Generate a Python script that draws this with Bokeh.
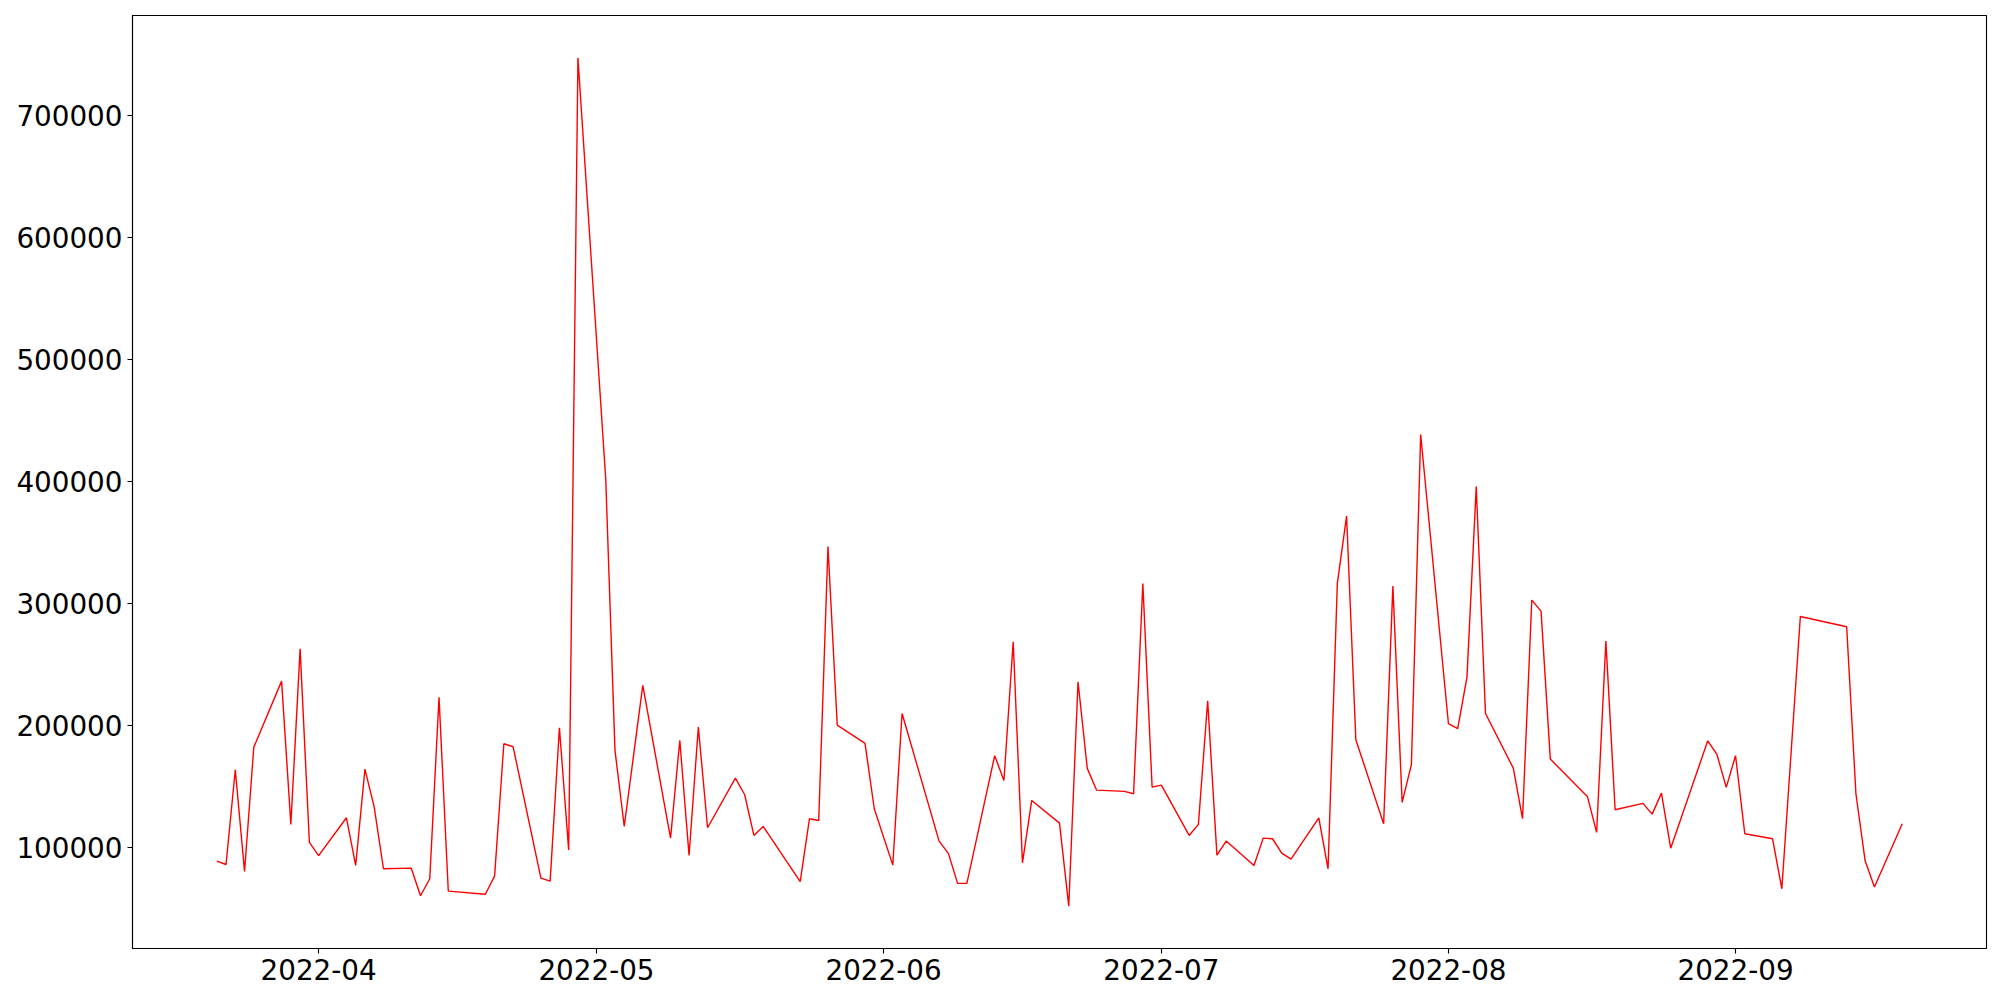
import pandas as pd
from bokeh.plotting import figure
from bokeh.models import (ColumnDataSource, Range1d, FixedTicker,
                          DatetimeTickFormatter, BasicTickFormatter)
from bokeh.embed import file_html
from bokeh.resources import INLINE

dates = [
    "2022-03-21", "2022-03-22", "2022-03-23", "2022-03-24", "2022-03-25",
    "2022-03-28", "2022-03-29", "2022-03-30", "2022-03-31", "2022-04-01",
    "2022-04-04", "2022-04-05", "2022-04-06", "2022-04-07", "2022-04-08",
    "2022-04-11", "2022-04-12", "2022-04-13", "2022-04-14", "2022-04-15",
    "2022-04-19", "2022-04-20", "2022-04-21", "2022-04-22",
    "2022-04-25", "2022-04-26", "2022-04-27", "2022-04-28", "2022-04-29",
    "2022-05-02", "2022-05-03", "2022-05-04", "2022-05-06",
    "2022-05-09", "2022-05-10", "2022-05-11", "2022-05-12", "2022-05-13",
    "2022-05-16", "2022-05-17", "2022-05-18", "2022-05-19",
    "2022-05-23", "2022-05-24", "2022-05-25", "2022-05-26", "2022-05-27",
    "2022-05-30", "2022-05-31", "2022-06-02", "2022-06-03",
    "2022-06-07", "2022-06-08", "2022-06-09", "2022-06-10",
    "2022-06-13", "2022-06-14", "2022-06-15", "2022-06-16", "2022-06-17",
    "2022-06-20", "2022-06-21", "2022-06-22", "2022-06-23", "2022-06-24",
    "2022-06-27", "2022-06-28", "2022-06-29", "2022-06-30", "2022-07-01",
    "2022-07-04", "2022-07-05", "2022-07-06", "2022-07-07", "2022-07-08",
    "2022-07-11", "2022-07-12", "2022-07-13", "2022-07-14", "2022-07-15",
    "2022-07-18", "2022-07-19", "2022-07-20", "2022-07-21", "2022-07-22",
    "2022-07-25", "2022-07-26", "2022-07-27", "2022-07-28", "2022-07-29",
    "2022-08-01", "2022-08-02", "2022-08-03", "2022-08-04", "2022-08-05",
    "2022-08-08", "2022-08-09", "2022-08-10", "2022-08-11", "2022-08-12",
    "2022-08-16", "2022-08-17", "2022-08-18", "2022-08-19",
    "2022-08-22", "2022-08-23", "2022-08-24", "2022-08-25",
    "2022-08-29", "2022-08-30", "2022-08-31", "2022-09-01", "2022-09-02",
    "2022-09-05", "2022-09-06", "2022-09-08",
    "2022-09-13", "2022-09-14", "2022-09-15", "2022-09-16",
    "2022-09-19",
]

values = [
    88770, 86000, 163700, 80300, 182200,
    236300, 118900, 262900, 104100, 93200,
    124300, 85200, 164200, 133000, 82500,
    83000, 60400, 74300, 223000, 64200,
    61600, 76500, 185000, 182500,
    74800, 72400, 198000, 97800, 747200,
    402200, 179500, 117200, 232800,
    107600, 187700, 93400, 198600, 116100,
    156800, 143400, 109800, 117200,
    71900, 123500, 122100, 346700, 200300,
    185300, 131700, 85500, 209800,
    105200, 95100, 70500, 70500,
    175200, 154900, 268600, 87400, 138500,
    119900, 51900, 235800, 164800, 147000,
    145900, 144000, 316400, 149400, 151100,
    109800, 118900, 220200, 93700, 105200,
    85200, 107600, 107100, 95300, 90400,
    124300, 82500, 316400, 371600, 188300,
    119400, 314200, 136900, 167800, 438500,
    201400, 197300, 239600, 395900, 209800,
    165000, 123500, 302700, 293700, 172400,
    141800, 112300, 269100, 130900,
    136100, 127300, 144500, 99400,
    187400, 176000, 149200, 175200, 111200,
    107100, 66100, 289300,
    280900, 144000, 88800, 67500,
    119400,
]

x_ticks = ["2022-04-01", "2022-05-01", "2022-06-01", "2022-07-01", "2022-08-01", "2022-09-01"]
y_ticks = [100000, 200000, 300000, 400000, 500000, 600000, 700000]

x = pd.to_datetime(dates)
src = ColumnDataSource(dict(x=x, y=values))

# matplotlib-like 5% margins
t0, t1 = x.min(), x.max()
span_t = t1 - t0
x_start = t0 - span_t * 0.05
x_end = t1 + span_t * 0.05
vmin, vmax = min(values), max(values)
span_v = vmax - vmin
y_start = vmin - 0.05 * span_v
y_end = vmax + 0.05 * span_v

p = figure(width=1992, height=992, x_axis_type="datetime",
           output_backend="svg", toolbar_location=None,
           x_range=Range1d(x_start, x_end), y_range=Range1d(y_start, y_end),
           min_border_left=132, min_border_right=6,
           min_border_top=15, min_border_bottom=44)

p.line("x", "y", source=src, line_color="red", line_width=1.4)

p.xgrid.visible = False
p.ygrid.visible = False
p.outline_line_color = "black"
p.outline_line_width = 1.1
p.background_fill_color = "white"
p.border_fill_color = "white"

tick_ms = [pd.Timestamp(t).value // 10**6 for t in x_ticks]
p.xaxis.ticker = FixedTicker(ticks=tick_ms)
p.xaxis.formatter = DatetimeTickFormatter(
    milliseconds="%Y-%m", seconds="%Y-%m", minsec="%Y-%m", minutes="%Y-%m",
    hourmin="%Y-%m", hours="%Y-%m", days="%Y-%m", months="%Y-%m", years="%Y-%m")
p.yaxis.ticker = FixedTicker(ticks=y_ticks)
p.yaxis.formatter = BasicTickFormatter(use_scientific=False)

for ax in (p.xaxis, p.yaxis):
    ax.axis_line_color = "black"
    ax.axis_line_width = 1.1
    ax.major_tick_line_color = "black"
    ax.major_tick_line_width = 1.1
    ax.major_tick_out = 5
    ax.major_tick_in = 0
    ax.minor_tick_line_color = None
    ax.major_label_standoff = 5
    ax.major_label_text_font = "DejaVu Sans"
    ax.major_label_text_font_size = "27.8px"
    ax.major_label_text_color = "black"

open("out.html", "w").write(file_html(p, INLINE))
